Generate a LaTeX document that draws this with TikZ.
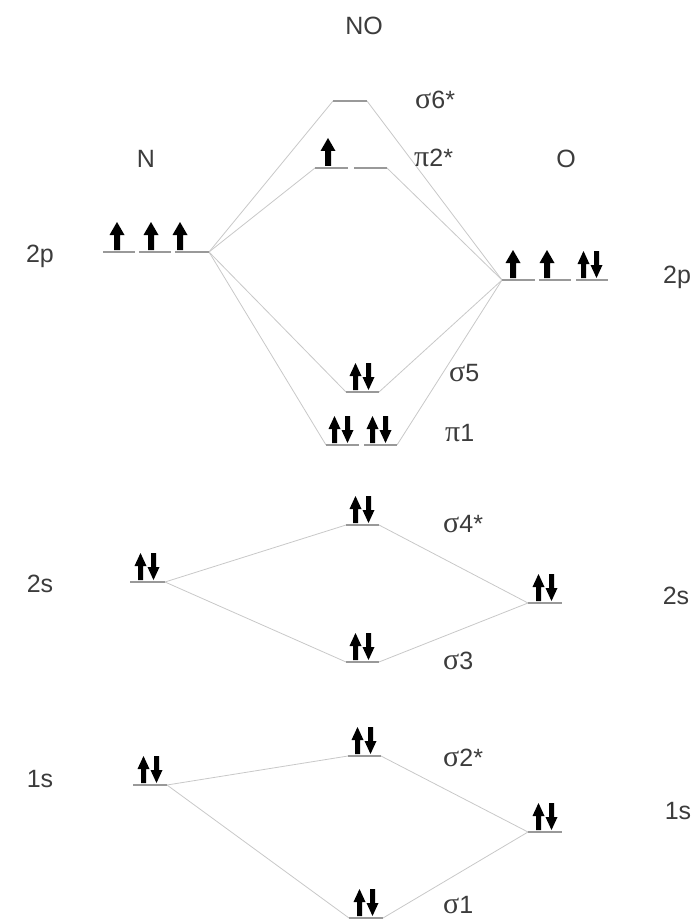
\documentclass[tikz,border=0pt]{standalone}
\usepackage{fontspec}
\setmainfont{Liberation Sans}
\newfontfamily\grk[Scale=1.2]{Liberation Serif}
\definecolor{txt}{HTML}{3C3C3C}
\definecolor{lvl}{HTML}{999999}
\definecolor{con}{HTML}{C8C8C8}
\tikzset{
  lab/.style={text=txt, font=\fontsize{25}{27}\selectfont, inner sep=0pt},
  molab/.style={lab, anchor=west},
  level/.style={draw=lvl, line width=1.2pt},
  conn/.style={draw=con, line width=0.8pt},
  pics/upone/.style={code={\fill[black] (-3,0) -- (3,0) -- (3,-15) -- (7.5,-15) -- (0,-28) -- (-7.5,-15) -- (-3,-15) -- cycle;}},
  pics/pair/.style={code={
    \fill[black] (-9,0) -- (-4,0) -- (-4,-14) -- (-0.5,-14) -- (-6.5,-27) -- (-12.5,-14) -- (-9,-14) -- cycle;
    \fill[black] (4,-27) -- (9,-27) -- (9,-13) -- (12.5,-13) -- (6.5,0) -- (0.5,-13) -- (4,-13) -- cycle;}}
}
\begin{document}
\begin{tikzpicture}[x=1pt,y=-1pt]
\useasboundingbox (0,0) rectangle (696,920);
% ---------- level coordinates ----------
% N 2p
\coordinate (n2pa1) at (103,252); \coordinate (n2pa2) at (135,252);
\coordinate (n2pb1) at (139,252); \coordinate (n2pb2) at (171,252);
\coordinate (n2pc1) at (175,252); \coordinate (n2pc2) at (209,252);
% O 2p
\coordinate (o2pa1) at (502,280); \coordinate (o2pa2) at (535,280);
\coordinate (o2pb1) at (539,280); \coordinate (o2pb2) at (571,280);
\coordinate (o2pc1) at (576,280); \coordinate (o2pc2) at (608,280);
% MO
\coordinate (s6a) at (333,101); \coordinate (s6b) at (367,101);
\coordinate (p2a1) at (315,168); \coordinate (p2a2) at (348,168);
\coordinate (p2b1) at (354,168); \coordinate (p2b2) at (387,168);
\coordinate (s5a) at (346,392); \coordinate (s5b) at (379,392);
\coordinate (p1a1) at (326,445); \coordinate (p1a2) at (359,445);
\coordinate (p1b1) at (364,445); \coordinate (p1b2) at (397,445);
\coordinate (s4a) at (346,525); \coordinate (s4b) at (379,525);
\coordinate (s3a) at (346,662); \coordinate (s3b) at (379,662);
\coordinate (s2a) at (348,756); \coordinate (s2b) at (381,756);
\coordinate (s1a) at (349,918); \coordinate (s1b) at (383,918);
% atomic s
\coordinate (n2sa) at (130,582); \coordinate (n2sb) at (165,582);
\coordinate (o2sa) at (528,603); \coordinate (o2sb) at (562,603);
\coordinate (n1sa) at (133,785); \coordinate (n1sb) at (167,785);
\coordinate (o1sa) at (528,832); \coordinate (o1sb) at (562,832);

% ---------- connectors ----------
\foreach \t in {s6a,p2a1,s5a,p1a1} \draw[conn] (n2pc2) -- (\t);
\foreach \t in {s6b,p2b2,s5b,p1b2} \draw[conn] (o2pa1) -- (\t);
\draw[conn] (n2sb) -- (s4a); \draw[conn] (n2sb) -- (s3a);
\draw[conn] (o2sa) -- (s4b); \draw[conn] (o2sa) -- (s3b);
\draw[conn] (n1sb) -- (s2a); \draw[conn] (n1sb) -- (s1a);
\draw[conn] (o1sa) -- (s2b); \draw[conn] (o1sa) -- (s1b);

% ---------- levels ----------
\draw[level] (n2pa1) -- (n2pa2); \draw[level] (n2pb1) -- (n2pb2); \draw[level] (n2pc1) -- (n2pc2);
\draw[level] (o2pa1) -- (o2pa2); \draw[level] (o2pb1) -- (o2pb2); \draw[level] (o2pc1) -- (o2pc2);
\draw[level] (s6a) -- (s6b);
\draw[level] (p2a1) -- (p2a2); \draw[level] (p2b1) -- (p2b2);
\draw[level] (s5a) -- (s5b);
\draw[level] (p1a1) -- (p1a2); \draw[level] (p1b1) -- (p1b2);
\draw[level] (s4a) -- (s4b); \draw[level] (s3a) -- (s3b);
\draw[level] (s2a) -- (s2b); \draw[level] (s1a) -- (s1b);
\draw[level] (n2sa) -- (n2sb); \draw[level] (o2sa) -- (o2sb);
\draw[level] (n1sa) -- (n1sb); \draw[level] (o1sa) -- (o1sb);

% ---------- electrons ----------
\pic at (117,250) {upone}; \pic at (151,250) {upone}; \pic at (180,250) {upone};
\pic at (513,278) {upone}; \pic at (547,278) {upone}; \pic at (590,278) {pair};
\pic at (328,166) {upone};
\pic at (362,390) {pair};
\pic at (341,443) {pair}; \pic at (379,443) {pair};
\pic at (362,523) {pair}; \pic at (362,660) {pair};
\pic at (364,754) {pair}; \pic at (366,916) {pair};
\pic at (147,580) {pair}; \pic at (545,601) {pair};
\pic at (150,783) {pair}; \pic at (545,830) {pair};

% ---------- labels ----------
\node[lab] (tNO) at (364,26) {NO};
\node[lab] (tN) at (146,159) {N};
\node[lab] (tO) at (566,159) {O};
\node[lab] (l2p) at (40,256) {2p};
\node[lab] (l2s) at (40,584) {2s};
\node[lab] (l1s) at (40,779) {1s};
\node[lab] (r2p) at (677,277) {2p};
\node[lab] (r2s) at (676,596) {2s};
\node[lab] (r1s) at (678,811) {1s};
\node[molab] (m6) at (415,100) {{\grk σ}6*};
\node[molab] (m5) at (414,158) {{\grk π}2*};
\node[molab] (m4) at (449,373) {{\grk σ}5};
\node[molab] (m3) at (445,433) {{\grk π}1};
\node[molab] (m2) at (443,524) {{\grk σ}4*};
\node[molab] (m1) at (443,661) {{\grk σ}3};
\node[molab] (m0) at (443,758) {{\grk σ}2*};
\node[molab] (mm) at (443,905) {{\grk σ}1};
\end{tikzpicture}
\end{document}
